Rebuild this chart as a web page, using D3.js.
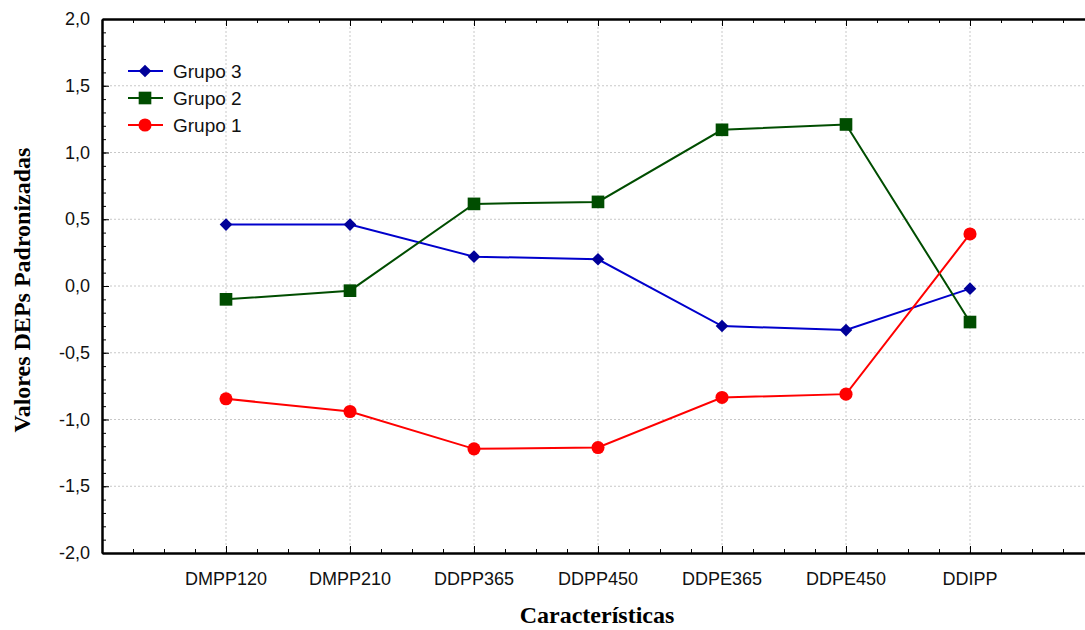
<!DOCTYPE html>
<html lang="pt">
<head>
  <meta charset="UTF-8">
  <title>Valores DEPs Padronizadas</title>
  <script src="https://d3js.org/d3.v7.min.js"></script>
  <style>
    body { margin: 0; background: white; }
    text { font-family: Arial, "Liberation Sans", sans-serif; }
    .title { font-family: "Times New Roman", "Liberation Serif", serif; font-weight: bold; }
  </style>
</head>
<body>
<div id="chart"></div>
<script>
// chart data
var categories = ["DMPP120", "DMPP210", "DDPP365", "DDPP450", "DDPE365", "DDPE450", "DDIPP"];
var grupo3 = [0.46, 0.46, 0.22, 0.20, -0.30, -0.33, -0.02];
var grupo2 = [-0.10, -0.035, 0.615, 0.63, 1.17, 1.21, -0.27];
var grupo1 = [-0.845, -0.94, -1.22, -1.21, -0.835, -0.81, 0.39];
var yTicks = [-2, -1.5, -1, -0.5, 0, 0.5, 1, 1.5, 2];

var series = [
  { name: "Grupo 3", values: grupo3, color: "#0000cc", fill: "#000099", shape: "diamond" },
  { name: "Grupo 2", values: grupo2, color: "#004d00", fill: "#004d00", shape: "square" },
  { name: "Grupo 1", values: grupo1, color: "#ff0000", fill: "#ff0000", shape: "circle" }
];

var width = 1085, height = 630;
var plotLeft = 102, plotTop = 19, plotBottom = 553;

var svg = d3.select("#chart").append("svg")
  .attr("width", width)
  .attr("height", height);

// x runs from one slot before the first category to one after the last
var x = d3.scaleLinear()
  .domain([-1, categories.length])
  .range([plotLeft, plotLeft + 124 * (categories.length + 1)]);

var y = d3.scaleLinear()
  .domain([-2, 2])
  .range([plotBottom, plotTop]);

var fmt = function(d) { return d3.format(".1f")(d).replace(".", ",").replace("−", "-"); };

// marker: diamond is a rotated square
function marker(sel, shape) {
  if (shape === "diamond") {
    sel.attr("d", d3.symbol().type(d3.symbolSquare).size(80)())
      .attr("transform", function() { return d3.select(this).attr("transform") + " rotate(45)"; });
  } else if (shape === "square") {
    sel.attr("d", d3.symbol().type(d3.symbolSquare).size(160)());
  } else {
    sel.attr("d", d3.symbol().type(d3.symbolCircle).size(135)());
  }
}

// grid lines
svg.append("g").selectAll("line")
  .data(yTicks.slice(1, -1))
  .join("line")
    .attr("x1", plotLeft).attr("x2", width)
    .attr("y1", function(d) { return y(d); }).attr("y2", function(d) { return y(d); })
    .attr("stroke", "#c8c8c8").attr("stroke-dasharray", "2,2");
svg.append("g").selectAll("line")
  .data(categories)
  .join("line")
    .attr("x1", function(d, i) { return x(i); }).attr("x2", function(d, i) { return x(i); })
    .attr("y1", plotTop).attr("y2", plotBottom)
    .attr("stroke", "#c8c8c8").attr("stroke-dasharray", "2,2");

// minor ticks
var yMinor = d3.range(-20, 21).map(function(d) { return d / 10; });
var xMinor = d3.range(-4, categories.length * 4 + 4).map(function(d) { return d / 4; });

// left axis
var ya = svg.append("g").attr("transform", "translate(" + plotLeft + ",0)")
  .call(d3.axisRight(y).tickValues(yTicks).tickFormat("").tickSize(7).tickSizeOuter(0));
ya.select(".domain").attr("stroke-width", 2.5);
svg.append("g").attr("transform", "translate(" + plotLeft + ",0)")
  .call(d3.axisRight(y).tickValues(yMinor).tickFormat("").tickSize(4).tickSizeOuter(0))
  .select(".domain").remove();
svg.append("g").selectAll("text")
  .data(yTicks)
  .join("text")
    .attr("x", 90)
    .attr("y", function(d) { return y(d) + 6; })
    .attr("text-anchor", "end")
    .attr("font-size", "18px")
    .attr("fill", "#111")
    .text(fmt);

// bottom and top axes with inward ticks
var xb = svg.append("g").attr("transform", "translate(0," + plotBottom + ")")
  .call(d3.axisTop(x).tickValues(d3.range(categories.length)).tickFormat("").tickSize(7).tickSizeOuter(0));
xb.select(".domain").attr("stroke-width", 2.5);
svg.append("g").attr("transform", "translate(0," + plotBottom + ")")
  .call(d3.axisTop(x).tickValues(xMinor).tickFormat("").tickSize(4).tickSizeOuter(0))
  .select(".domain").remove();
var xt = svg.append("g").attr("transform", "translate(0," + plotTop + ")")
  .call(d3.axisBottom(x).tickValues(d3.range(categories.length)).tickFormat("").tickSize(7).tickSizeOuter(0));
xt.select(".domain").attr("stroke-width", 2.5);
svg.append("g").attr("transform", "translate(0," + plotTop + ")")
  .call(d3.axisBottom(x).tickValues(xMinor).tickFormat("").tickSize(4).tickSizeOuter(0))
  .select(".domain").remove();

svg.append("g").selectAll("text")
  .data(categories)
  .join("text")
    .attr("x", function(d, i) { return x(i); })
    .attr("y", 585)
    .attr("text-anchor", "middle")
    .attr("font-size", "18px")
    .attr("fill", "#111")
    .text(function(d) { return d; });

// lines and markers
var line = d3.line()
  .x(function(d, i) { return x(i); })
  .y(function(d) { return y(d); });

series.forEach(function(s) {
  svg.append("path")
    .datum(s.values)
    .attr("d", line)
    .attr("fill", "none")
    .attr("stroke", s.color)
    .attr("stroke-width", 2);
  svg.append("g").selectAll("path")
    .data(s.values)
    .join("path")
      .attr("transform", function(d, i) { return "translate(" + x(i) + "," + y(d) + ")"; })
      .attr("fill", s.fill)
      .call(marker, s.shape);
});

// legend
var legend = svg.append("g");
series.forEach(function(s, i) {
  var ly = 71 + i * 27;
  legend.append("line")
    .attr("x1", 128).attr("x2", 163)
    .attr("y1", ly).attr("y2", ly)
    .attr("stroke", s.color).attr("stroke-width", 2);
  legend.append("path")
    .attr("transform", "translate(145," + ly + ")")
    .attr("fill", s.fill)
    .call(marker, s.shape);
  legend.append("text")
    .attr("x", 173).attr("y", ly + 7)
    .attr("font-size", "19px")
    .attr("fill", "#111")
    .text(s.name);
});

// axis titles
svg.append("text")
  .attr("class", "title")
  .attr("x", 597).attr("y", 623)
  .attr("text-anchor", "middle")
  .attr("font-size", "24px")
  .text("Características");
svg.append("text")
  .attr("class", "title")
  .attr("transform", "translate(30,290) rotate(-90)")
  .attr("text-anchor", "middle")
  .attr("font-size", "24px")
  .text("Valores DEPs Padronizadas");
</script>
</body>
</html>
